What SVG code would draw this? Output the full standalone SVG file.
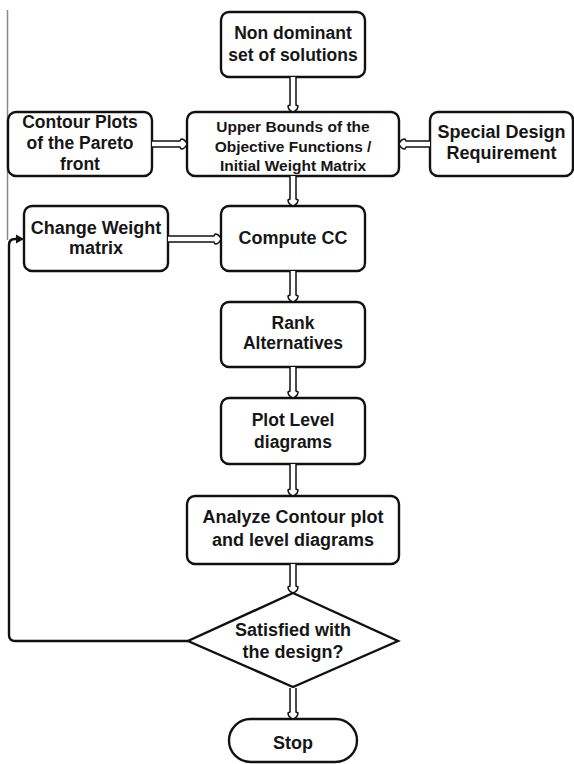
<svg xmlns="http://www.w3.org/2000/svg" width="574" height="764" viewBox="0 0 574 764">
<defs>
<style>
.box{fill:#fff;stroke:#111;stroke-width:2.4}
.t{font-family:"Liberation Sans",Arial,sans-serif;font-weight:bold;font-size:17.5px;fill:#161616;text-anchor:middle}
.ts{font-size:15.5px}
.tl{font-size:18px}
.arr{fill:#fff;stroke:#111;stroke-width:1.5;stroke-linejoin:round}
.loop{fill:none;stroke:#111;stroke-width:2.4}
</style>
</defs>
<rect width="574" height="764" fill="#fff"/>
<line x1="7.5" y1="10" x2="7.5" y2="240" stroke="#8a8a8a" stroke-width="1.5"/>

<g id="n-nondominant">
<rect class="box" x="221" y="12" width="144" height="65" rx="8"/>
<text class="t" x="293" y="39">Non dominant</text>
<text class="t" x="293" y="61">set of solutions</text>
</g>
<g id="n-contour">
<rect class="box" x="8" y="112" width="144" height="64" rx="8"/>
<text class="t" x="80" y="128">Contour Plots</text>
<text class="t" x="80" y="149">of the Pareto</text>
<text class="t" x="80" y="170">front</text>
</g>
<g id="n-upper">
<rect class="box" x="187" y="112" width="212" height="64" rx="8"/>
<text class="t ts" x="293" y="131.5">Upper Bounds of the</text>
<text class="t ts" x="293" y="151.5">Objective Functions /</text>
<text class="t ts" x="293" y="170.5">Initial Weight Matrix</text>
</g>
<g id="n-special">
<rect class="box" x="430" y="112" width="143" height="64" rx="8"/>
<text class="t tl" x="501.5" y="138">Special Design</text>
<text class="t tl" x="501.5" y="159">Requirement</text>
</g>
<g id="n-change">
<rect class="box" x="24" y="206" width="144" height="65" rx="8"/>
<text class="t tl" x="96" y="234">Change Weight</text>
<text class="t tl" x="96" y="254">matrix</text>
</g>
<g id="n-compute">
<rect class="box" x="221" y="206" width="144" height="65" rx="8"/>
<text class="t tl" x="293" y="244">Compute CC</text>
</g>
<g id="n-rank">
<rect class="box" x="221" y="302" width="144" height="65" rx="8"/>
<text class="t" x="293" y="329">Rank</text>
<text class="t" x="293" y="349">Alternatives</text>
</g>
<g id="n-plot">
<rect class="box" x="221" y="398" width="144" height="66" rx="8"/>
<text class="t" x="293" y="426">Plot Level</text>
<text class="t" x="293" y="448">diagrams</text>
</g>
<g id="n-analyze">
<rect class="box" x="187" y="496" width="212" height="68" rx="8"/>
<text class="t tl" x="293" y="523">Analyze Contour plot</text>
<text class="t tl" x="293" y="546">and level diagrams</text>
</g>
<g id="n-decision">
<polygon class="box" points="293,593 398,641 293,687 188,641"/>
<text class="t tl" x="293" y="636">Satisfied with</text>
<text class="t tl" x="293" y="658">the design?</text>
</g>
<g id="n-stop">
<rect class="box" x="229" y="719" width="128" height="43" rx="21.5"/>
<text class="t tl" x="293" y="749">Stop</text>
</g>

<g id="connectors">
<path class="arr" d="M290 77 V105 L288 106 Q288 110 293 112 Q298 110 298 106 L296 105 V77"/>
<path class="arr" d="M290 176 V199 L288 200 Q288 204 293 206 Q298 204 298 200 L296 199 V176"/>
<path class="arr" d="M290 271 V295 L288 296 Q288 300 293 302 Q298 300 298 296 L296 295 V271"/>
<path class="arr" d="M290 367 V391 L288 392 Q288 396 293 398 Q298 396 298 392 L296 391 V367"/>
<path class="arr" d="M290 464 V489 L288 490 Q288 494 293 496 Q298 494 298 490 L296 489 V464"/>
<path class="arr" d="M290 564 V586 L288 587 Q288 591 293 593 Q298 591 298 587 L296 586 V564"/>
<path class="arr" d="M290 688 V712 L288 713 Q288 717 293 719 Q298 717 298 713 L296 712 V688"/>
<path class="arr" d="M152 141 H180 L181 139 Q185 139 187 144 Q185 149 181 149 L180 147 H152"/>
<path class="arr" d="M430 141 H406 L405 139 Q401 139 399 144 Q401 149 405 149 L406 147 H430"/>
<path class="arr" d="M168 236 H214 L215 234 Q219 234 221 239 Q219 244 215 244 L214 242 H168"/>
<path class="loop" d="M188 641 H15 Q9 641 9 635 V245 Q9 239 15 239 H18"/>
<polygon points="16,234.5 24,239 16,243.5" fill="#111"/>
</g>
</svg>
